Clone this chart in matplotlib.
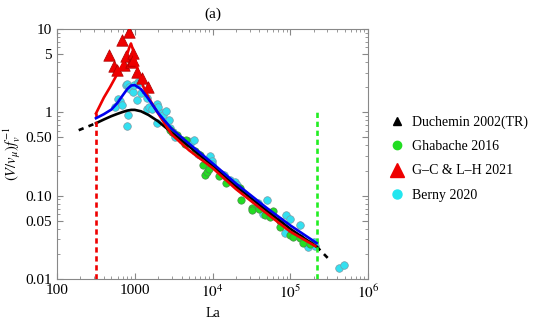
import matplotlib
matplotlib.use("Agg")
import matplotlib.pyplot as plt
from matplotlib.lines import Line2D
from matplotlib.ticker import FixedLocator, FixedFormatter, NullFormatter
import numpy as np

plt.rcParams['font.family'] = ['Liberation Serif', 'DejaVu Serif']
plt.rcParams['mathtext.fontset'] = 'stix'

# ---- data ----
la_curve = [317, 400, 500, 600, 700, 800, 900, 1000, 1200, 1500, 2000, 3000, 5000,
            1e4, 2e4, 5e4, 1e5, 2.18e5]
black_vals = [0.74, 0.82, 0.90, 0.96, 1.01, 1.05, 1.07, 1.07, 1.03, 0.93, 0.78, 0.57,
              0.39, 0.23, 0.13, 0.066, 0.040, 0.0245]
blue_vals = [0.85, 0.95, 1.08, 1.3, 1.6, 1.9, 2.1, 2.12, 1.9, 1.45, 0.98, 0.63,
             0.42, 0.245, 0.14, 0.071, 0.044, 0.027]
la_red = [317, 400, 480, 585, 680, 780, 850, 893, 940, 1000, 1140, 1300, 1500, 2000,
          2570, 3000, 5000, 1e4, 2e4, 5e4, 1e5, 2.18e5]
red_vals = [0.97, 1.5, 2.0, 2.8, 3.6, 4.6, 6.0, 6.7, 5.8, 4.4, 2.8, 2.0, 1.5, 0.97,
            0.67, 0.54, 0.35, 0.215, 0.12, 0.061, 0.037, 0.0243]
la_black_dash_lo = [190, 317]
val_black_dash_lo = [0.61, 0.74]
la_black_dash_hi = [2.18e5, 3.2e5]
val_black_dash_hi = [0.0245, 0.017]

la_lim_low = 317
la_lim_high = 2.18e5

gc_la = [466, 540, 590, 685, 726, 760, 850, 890, 950, 940, 1070, 1250, 1460]
gc_val = [4.9, 3.6, 3.2, 7.4, 3.7, 4.8, 9.3, 4.0, 5.2, 4.3, 3.05, 2.6, 2.0]

berny_la = [556, 614, 645, 680, 771, 786, 786, 830, 850, 870, 950, 977, 1058, 1110, 1160,
            1220, 1440, 1440, 1535, 1650, 1910, 1910, 1985, 2220, 2330, 2520, 2780, 2830,
            3130, 3280, 4880, 5300, 5820, 6550, 9270, 9740, 9740, 12700, 14000, 16700,
            19400, 20400, 38700, 44900, 49500, 85000, 87700, 99000, 1.33e5, 1.7e5, 2.0e5,
            2.05e5, 4.26e5, 4.89e5]
berny_val = [1.17, 1.43, 1.35, 1.23, 2.13, 2.19, 0.685, 0.93, 2.0, 1.9, 1.77, 2.13, 1.4,
             2.29, 2.33, 1.7, 1.47, 1.11, 1.17, 1.11, 1.26, 0.74, 1.17, 0.97, 0.93, 1.05,
             0.81, 0.64, 0.585, 0.51, 0.45, 0.44, 0.46, 0.32, 0.30, 0.26, 0.24, 0.18, 0.175,
             0.154, 0.147, 0.134, 0.082, 0.061, 0.0886, 0.0352, 0.058, 0.052, 0.0444, 0.0243,
             0.028, 0.025, 0.0135, 0.0146]

ghab_la = [2830, 2980, 3460, 4010, 4420, 4550, 5940, 6870, 7590, 7980, 8400, 9000, 12000,
           15000, 22500, 23500, 31800, 31800, 40000, 47200, 54700, 59200, 73500, 73500,
           99000, 1.09e5, 1.33e5, 1.47e5, 1.8e5]
ghab_val = [0.61, 0.585, 0.534, 0.47, 0.42, 0.47, 0.34, 0.31, 0.233, 0.177, 0.194, 0.21,
            0.17, 0.14, 0.122, 0.089, 0.0705, 0.067, 0.07, 0.058, 0.0558, 0.066, 0.049,
            0.0424, 0.034, 0.0321, 0.031, 0.0267, 0.026]

legend_labels = ["Duchemin 2002(TR)", "Ghabache 2016", "G\u2013C & L\u2013H 2021", "Berny 2020"]

# ---- figure ----
fig = plt.figure(figsize=(5.4, 3.24), dpi=100)
ax = fig.add_axes([0.1056, 0.1389, 0.5759, 0.7716])
ax.set_xscale('log')
ax.set_yscale('log')
ax.set_xlim(100, 1e6)
ax.set_ylim(0.01, 10)

ax.scatter(berny_la, berny_val, s=30, c='#33e0f0', edgecolors='#7a9aa6', linewidths=0.5, zorder=2)
ax.scatter(ghab_la, ghab_val, s=28, c='#22dd22', edgecolors='#4a8a4a', linewidths=0.5, zorder=2)
ax.scatter(gc_la, gc_val, s=68, marker='^', c='#ee0000', edgecolors='#aa0000', linewidths=0.5, zorder=3)

lw = 1.9
ax.plot(la_curve, black_vals, color='black', lw=lw, zorder=4)
ax.plot(la_curve, blue_vals, color='#0000ee', lw=lw, zorder=5)
ax.plot(la_red, red_vals, color='#ee0000', lw=lw, zorder=4)
ax.plot(la_black_dash_lo, val_black_dash_lo, color='black', lw=lw, ls=(0, (2.0, 2.0)), zorder=4)
ax.plot(la_black_dash_hi, val_black_dash_hi, color='black', lw=lw, ls=(0, (2.0, 2.0)), zorder=4)

ax.plot([la_lim_low, la_lim_low], [0.01, red_vals[0]], color='#ee0000', lw=lw, ls=(0, (2.0, 1.4)), zorder=4)
ax.plot([la_lim_high, la_lim_high], [0.01, 1.0], color='#22ee22', lw=lw, ls=(0, (2.0, 1.4)), zorder=4)

# ticks
ax.xaxis.set_major_locator(FixedLocator([100, 1000, 1e4, 1e5, 1e6]))
ax.xaxis.set_major_formatter(FixedFormatter(['100', '1000', r'$10^4$', r'$10^5$', r'$10^6$']))
xminor = [m * 10**e for e in range(2, 6) for m in range(2, 10)]
ax.xaxis.set_minor_locator(FixedLocator(xminor))
ax.xaxis.set_minor_formatter(NullFormatter())

ax.yaxis.set_major_locator(FixedLocator([0.01, 0.05, 0.1, 0.5, 1, 5, 10]))
ax.yaxis.set_major_formatter(FixedFormatter(['0.01', '0.05', '0.10', '0.50', '1', '5', '10']))
yminor = [m * 10.0**e for e in range(-2, 1) for m in (2, 3, 4, 6, 7, 8, 9)]
ax.yaxis.set_minor_locator(FixedLocator(yminor))
ax.yaxis.set_minor_formatter(NullFormatter())

ax.tick_params(which='both', direction='in', top=True, right=True, color='#888888',
               labelsize=11)
ax.tick_params(which='major', length=4.5, width=0.8)
ax.tick_params(which='minor', length=2.5, width=0.6)
for sp in ax.spines.values():
    sp.set_color('#888888')
    sp.set_linewidth(0.8)

ax.set_xlabel('La', fontsize=10, labelpad=4)
ax.set_ylabel(r'$(V/v_{\mu})f_v^{-1}$', fontsize=10.5, labelpad=2)
ax.set_title('(a)', fontsize=11, pad=8)

handles = [
    Line2D([], [], marker='^', color='black', ls='none', markersize=6),
    Line2D([], [], marker='o', color='#22dd22', ls='none', markersize=6),
    Line2D([], [], marker='^', color='#ee0000', ls='none', markersize=10),
    Line2D([], [], marker='o', color='#22e6ef', ls='none', markersize=6.5),
]
fig.legend(handles, legend_labels, loc='upper left', bbox_to_anchor=(0.712, 0.66),
           frameon=False, fontsize=10, handlelength=1.0, handletextpad=0.6,
           labelspacing=0.8, borderaxespad=0)

fig.savefig('out.png', dpi=100)
